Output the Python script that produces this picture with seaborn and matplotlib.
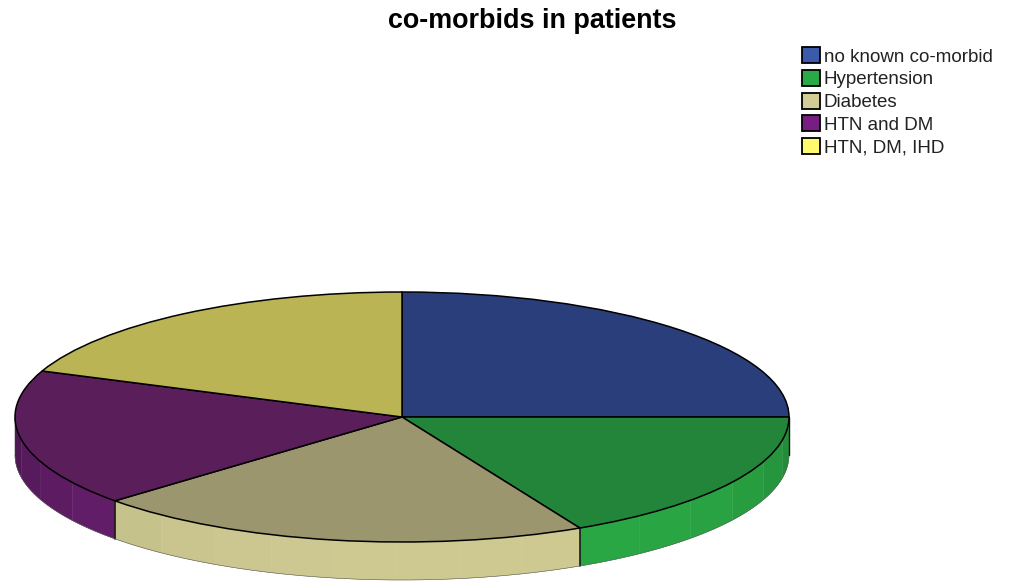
import numpy as np
import matplotlib
matplotlib.use("Agg")
import matplotlib.pyplot as plt
from matplotlib.patches import Patch
import seaborn as sns

title = "co-morbids in patients"
categories = ["no known co-morbid", "Hypertension", "Diabetes", "HTN and DM", "HTN, DM, IHD"]
shares = [25.0, 17.4, 20.9, 17.7, 19.0]

# top face is darker than the legend, wall is in between
legend_colors = ["#3c5aaa", "#2aaa46", "#d2cd96", "#781e82", "#fffa6e"]
top_colors = ["#2b3e7c", "#23853a", "#9b966e", "#5a1e5a", "#bab455"]
wall_colors = ["#2b3e7c", "#2aa845", "#cec991", "#681f6e", "#bab455"]

sns.set_theme(style="white")
plt.rcParams["font.family"] = ["Liberation Sans", "DejaVu Sans"]

fig, ax = plt.subplots(figsize=(10.1, 5.81), dpi=100)
fig.subplots_adjust(left=0, right=1, top=1, bottom=0)

wedges, _ = ax.pie(shares, colors=top_colors, startangle=90, counterclock=False,
                   wedgeprops={"edgecolor": "black", "linewidth": 1.1, "zorder": 3})

# squash the pie: 387 px wide radius, 125 px high radius, centre at (402, 417)
ax.set_aspect("auto")
ax.set_xlim(-402 / 387, (1010 - 402) / 387)
ax.set_ylim((417 - 581) / 125, 417 / 125)
depth = 38 / 125

# side wall, cut in small facets with a bit of shading
# clockwise pie so the lower half is -180..0 degrees
for wedge, col in zip(wedges, wall_colors):
    t1, t2 = wedge.theta1, wedge.theta2
    start, stop = max(t1, -180), min(t2, 0)
    if stop <= start:
        continue
    n = max(int((stop - start) / 9), 1)
    edges = np.linspace(start, stop, n + 1)
    for a, b in zip(edges[:-1], edges[1:]):
        ang = np.radians(np.linspace(a, b, 8))
        mid = (a + b) / 2
        shade = 1 - 0.28 * (abs(mid + 85) / 95) ** 3
        rgb = np.clip(np.array(matplotlib.colors.to_rgb(col)) * shade, 0, 1)
        xs = np.r_[np.cos(ang), np.cos(ang[::-1])]
        ys = np.r_[np.sin(ang), np.sin(ang[::-1]) - depth]
        ax.fill(xs, ys, color=rgb, lw=0.3, zorder=1)
    # dark line where two slices meet on the wall
    if -180 < t1 < 0:
        x = np.cos(np.radians(t1))
        y = np.sin(np.radians(t1))
        ax.plot([x, x], [y, y - depth], color="#1a1a1a", lw=1.2, zorder=2)

# outline of the wall
ang = np.radians(np.linspace(-180, 0, 200))
ax.plot(np.cos(ang), np.sin(ang) - depth, color="#555555", lw=0.4, zorder=2)
ax.plot([-1, -1], [0, -depth], color="#333333", lw=0.8, zorder=2)
ax.plot([1, 1], [0, -depth], color="#111111", lw=1.0, zorder=2)

handles = [Patch(facecolor=c, edgecolor="black", linewidth=1.3) for c in legend_colors]
ax.legend(handles, categories, loc="upper left", bbox_to_anchor=(802 / 1010, 1 - 47 / 581),
          frameon=False, fontsize=13.5, handlelength=0.95, handleheight=0.95,
          handletextpad=0.2, labelspacing=0.225, borderaxespad=0, borderpad=0,
          labelcolor="#222222")

fig.text(532 / 1010, 1 - 21 / 581, title, ha="center", va="center",
         fontsize=19.4, fontweight="bold", color="black")

fig.savefig("out.png", dpi=100)
